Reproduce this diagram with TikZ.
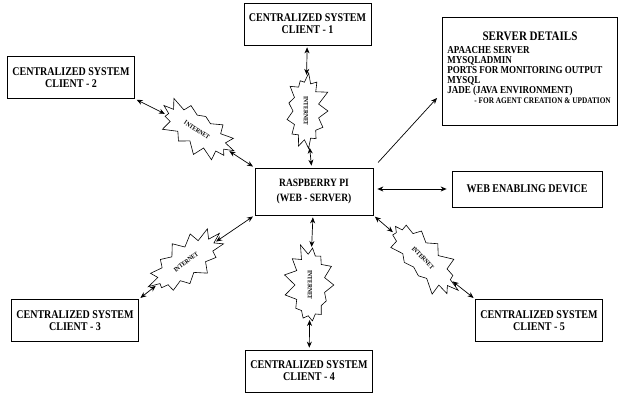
\documentclass[tikz,border=0pt]{standalone}
\usepackage{fontspec}
\setmainfont{Liberation Serif}[FakeStretch=0.85]
\usetikzlibrary{arrows.meta,shapes.symbols}

\tikzset{
	box/.style={draw,line width=0.7pt,font=\bfseries\fontsize{11.8}{12}\selectfont,align=center},
	client/.style={box,minimum width=127pt,minimum height=42pt},
	cloud/.style={draw,line width=0.6pt,starburst,starburst points=13,starburst point height=12pt,
		inner sep=0pt,font=\bfseries\fontsize{6.5}{6}\selectfont},
}

\begin{document}
\begin{tikzpicture}[x=1pt,y=-1pt,line width=0.7pt,>={Stealth[length=6pt,width=5pt]}]
	\useasboundingbox (0,0) rectangle (620,394);
	% server and its neighbours
	\node[box,minimum width=118pt,minimum height=47pt,font=\bfseries\fontsize{11.2}{15}\selectfont]
		(rpi) at (314,191.5) {RASPBERRY PI\\(WEB - SERVER)};
	\node[box,minimum width=150pt,minimum height=36pt] (web) at (527,189) {WEB ENABLING DEVICE};
	\node[box,minimum width=175pt,minimum height=108pt] (sd) at (529.5,71) {};
	\node[font=\bfseries\fontsize{13}{12}\selectfont] (sdtitle) at (530,36) {SERVER DETAILS};
	\node[anchor=north west,inner sep=0pt,align=left,font=\bfseries\fontsize{10.6}{10.1}\selectfont]
		(sdlist) at (447,46) {APAACHE SERVER\\MYSQLADMIN\\PORTS FOR MONITORING OUTPUT\\MYSQL\\
		JADE (JAVA ENVIRONMENT)\\
		\hspace*{27pt}{\fontsize{8.6}{10.1}\selectfont - FOR AGENT CREATION \& UPDATION}};
	\coordinate (sdtip) at (437,98);

	% clients
	\node[client] (c1) at (307.5,24)  {CENTRALIZED SYSTEM\\CLIENT - 1};
	\node[client] (c2) at (71,77.5)   {CENTRALIZED SYSTEM\\CLIENT - 2};
	\node[client] (c3) at (75,320.5)  {CENTRALIZED SYSTEM\\CLIENT - 3};
	\node[client] (c4) at (309,371)   {CENTRALIZED SYSTEM\\CLIENT - 4};
	\node[client] (c5) at (539,320.5) {CENTRALIZED SYSTEM\\CLIENT - 5};

	% internet clouds
	\node[cloud,rotate=-90,minimum width=82pt,minimum height=50pt,random starburst=11] (b1) at (306,111) {INTERNET};
	\node[cloud,rotate=-33,minimum width=90pt,minimum height=50pt,random starburst=23] (b2) at (197,130) {INTERNET};
	\node[cloud,rotate=37,minimum width=92pt,minimum height=50pt,random starburst=37] (b3) at (186,262) {INTERNET};
	\node[cloud,rotate=-46,minimum width=98pt,minimum height=50pt,random starburst=51] (b4) at (423,258) {INTERNET};
	\node[cloud,rotate=-90,minimum width=86pt,minimum height=54pt,random starburst=67] (b5) at (310,285) {INTERNET};

	\path[<->,shorten >=2pt,shorten <=2pt]
		(c1) edge (b1)
		(b1) edge (rpi)
		(c2.south east) edge (b2)
		(b2) edge (rpi.north west)
		(rpi.south west) edge (b3)
		(b3) edge (c3.north east)
		(rpi.south east) edge (b4)
		(b4) edge (c5.north west)
		(rpi) edge (b5)
		(b5) edge (c4)
		(rpi.east |- web) edge [shorten >=5pt,shorten <=4pt] (web);
	\draw[->,shorten <=7pt] (rpi.north east) -- (sdtip);
\end{tikzpicture}
\end{document}
